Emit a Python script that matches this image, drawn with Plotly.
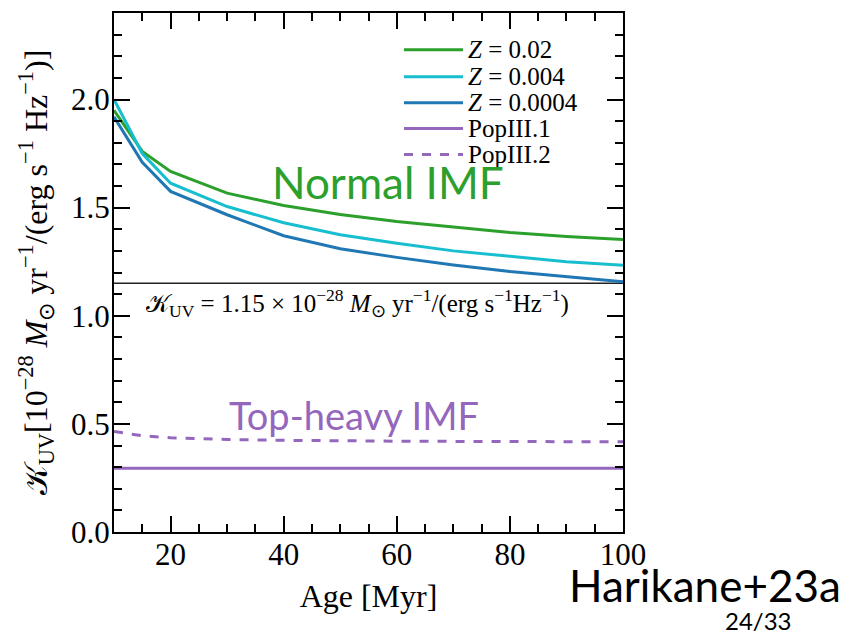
import plotly.graph_objects as go

# Stellar population age grid [Myr]
age = [10, 15, 20, 30, 40, 50, 60, 70, 80, 90, 100]

# UV conversion factor K_UV [1e-28 Msun/yr / (erg/s/Hz)]
k_z002 = [1.95, 1.76, 1.667, 1.567, 1.51, 1.468, 1.436, 1.41, 1.385, 1.367, 1.353]
k_z0004 = [2.00, 1.75, 1.613, 1.505, 1.43, 1.375, 1.335, 1.30, 1.275, 1.25, 1.234]
k_z00004 = [1.92, 1.71, 1.575, 1.467, 1.37, 1.31, 1.27, 1.235, 1.205, 1.18, 1.157]
k_pop3_1 = [0.295, 0.295, 0.295, 0.295, 0.295, 0.295, 0.295, 0.295, 0.295, 0.295, 0.295]
k_pop3_2 = [0.465, 0.445, 0.436, 0.428, 0.424, 0.421, 0.420, 0.419, 0.418, 0.418, 0.417]

k_standard = 1.15  # fiducial conversion factor

series_names = ["<i>Z</i> = 0.02", "<i>Z</i> = 0.004", "<i>Z</i> = 0.0004",
                "PopIII.1", "PopIII.2"]
series_vals = [k_z002, k_z0004, k_z00004, k_pop3_1, k_pop3_2]
series_colors = ["#2ca02c", "#17becf", "#1f77b4", "#9467bd", "#9467bd"]
series_dash = ["solid", "solid", "solid", "solid", "dash"]

x_ticks = [20, 40, 60, 80, 100]
y_ticks = [0.0, 0.5, 1.0, 1.5, 2.0]

SERIF = "Liberation Serif, Times New Roman, serif"
SANS = "Lato, Open Sans, sans-serif"

# plot-area geometry (pixels) used to place the hand-built legend
W, H = 850, 637
M_L, M_R, M_T, M_B = 114, 227, 11, 105
PW, PH = W - M_L - M_R, H - M_T - M_B


def px_x(p):
    return (p - M_L) / PW


def px_y(p):
    return (H - M_B - p) / PH


fig = go.Figure()

# fiducial K_UV reference line
fig.add_trace(go.Scatter(x=[age[0], age[-1]], y=[k_standard, k_standard],
                         mode="lines", line=dict(color="#222222", width=1.5),
                         showlegend=False, hoverinfo="skip"))

for name, vals, col, dash in zip(series_names, series_vals, series_colors, series_dash):
    fig.add_trace(go.Scatter(x=age, y=vals, mode="lines", name=name, showlegend=False,
                             line=dict(color=col, width=3, dash=dash)))

# legend: key line + label for each series
legend_rows = [48, 75, 101, 127, 153]
for row, name, col, dash in zip(legend_rows, series_names, series_colors, series_dash):
    fig.add_shape(type="line", xref="paper", yref="paper",
                  x0=px_x(404), x1=px_x(463), y0=px_y(row), y1=px_y(row),
                  line=dict(color=col, width=3, dash=dash))
    fig.add_annotation(x=px_x(466), y=px_y(row), xref="paper", yref="paper",
                       xanchor="left", yanchor="middle", showarrow=False, text=name,
                       font=dict(family=SERIF, size=25, color="black"))

axis_common = dict(
    showline=True, linewidth=2, linecolor="black", mirror="allticks",
    ticks="inside", ticklen=16, tickwidth=1.5, tickcolor="black",
    showgrid=False, zeroline=False,
    tickfont=dict(family=SERIF, size=31, color="black"),
)

fig.update_xaxes(range=[10, 100], tickvals=x_ticks, ticktext=[str(v) for v in x_ticks],
                 ticklabelstandoff=-6,
                 minor=dict(dtick=5, tick0=0, ticks="inside", ticklen=8, tickwidth=1.5,
                            tickcolor="black", showgrid=False),
                 title=dict(text="Age [Myr]", font=dict(family=SERIF, size=32, color="black"),
                            standoff=13),
                 **axis_common)
fig.update_yaxes(range=[0, 2.4], tickvals=y_ticks, ticktext=[f"{v:.1f}" for v in y_ticks],
                 ticklabelstandoff=-4,
                 minor=dict(dtick=0.1, tick0=0, ticks="inside", ticklen=8, tickwidth=1.5,
                            tickcolor="black", showgrid=False),
                 title=dict(text="𝒦<sub>UV</sub>[10<sup>−28</sup> <i>M</i><sub>⊙</sub> yr<sup>−1</sup>"
                                 "/(erg s<sup>−1</sup> Hz<sup>−1</sup>)]",
                            font=dict(family=SERIF, size=32, color="black"), standoff=14),
                 **axis_common)

fig.add_annotation(x=53, y=1.06, xref="x", yref="y", showarrow=False,
                   text="𝒦<sub>UV</sub> = 1.15 × 10<sup>−28</sup> <i>M</i><sub>⊙</sub> yr<sup>−1</sup>"
                        "/(erg s<sup>−1</sup>Hz<sup>−1</sup>)",
                   font=dict(family=SERIF, size=25, color="black"))
fig.add_annotation(x=58.4, y=1.62, xref="x", yref="y", showarrow=False,
                   text="Normal IMF", font=dict(family=SANS, size=44, color="#2ca02c"))
fig.add_annotation(x=52.4, y=0.54, xref="x", yref="y", showarrow=False,
                   text="Top-heavy IMF", font=dict(family=SANS, size=38, color="#9467bd"))
fig.add_annotation(x=px_x(567), y=px_y(585), xref="paper", yref="paper",
                   xanchor="left", yanchor="middle", showarrow=False, text="Harikane+23a",
                   font=dict(family=SANS, size=44, color="black"))
fig.add_annotation(x=px_x(758), y=px_y(621), xref="paper", yref="paper",
                   xanchor="center", yanchor="middle", showarrow=False,
                   text="24/33", font=dict(family=SANS, size=24, color="black"))

fig.update_layout(
    width=W, height=H,
    margin=dict(l=M_L, r=M_R, t=M_T, b=M_B),
    paper_bgcolor="white", plot_bgcolor="white",
    showlegend=False,
)

fig.write_html("out.html")
